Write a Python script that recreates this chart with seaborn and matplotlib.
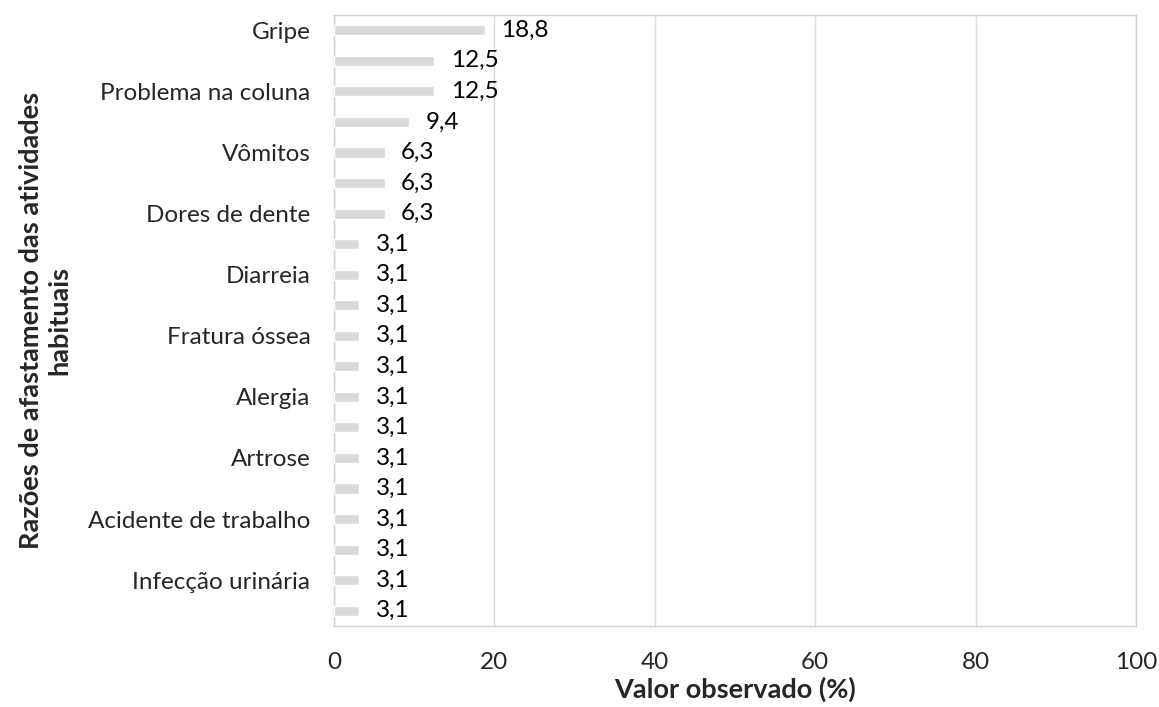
import matplotlib
matplotlib.use("Agg")
import matplotlib.pyplot as plt
import seaborn as sns
import pandas as pd

tick_labels = ["Gripe", "", "Problema na coluna", "", "Vômitos", "", "Dores de dente", "",
               "Diarreia", "", "Fratura óssea", "", "Alergia", "", "Artrose", "",
               "Acidente de trabalho", "", "Infecção urinária", ""]
values = [18.8, 12.5, 12.5, 9.4, 6.3, 6.3, 6.3, 3.1, 3.1, 3.1, 3.1, 3.1, 3.1, 3.1,
          3.1, 3.1, 3.1, 3.1, 3.1, 3.1]
xticks = [0, 20, 40, 60, 80, 100]

sns.set_theme(style="white")
plt.rcParams["font.family"] = ["Lato", "DejaVu Sans"]

FS = 17.5
FSB = 19.5
keys = [f"k{i}" for i in range(len(values))]
df = pd.DataFrame({"key": keys, "valor": values})

fig = plt.figure(figsize=(11.59, 7.07), dpi=100)
ax = fig.add_axes([334 / 1159, 1 - 626 / 707, (1136 - 334) / 1159, (626 - 15) / 707])
sns.barplot(data=df, y="key", x="valor", order=keys, color="#D9D9D9", width=0.33,
            saturation=1, ax=ax, zorder=3)
ax.set_xlim(0, 100)
ax.set_ylim(len(values) - 0.5, -0.5)
ax.set_xticks(xticks)
ax.set_xticklabels([str(t) for t in xticks], fontsize=FS)
ax.set_yticks(range(len(values)))
ax.set_yticklabels(tick_labels, fontsize=FS)
ax.tick_params(axis="y", length=0, pad=17)
ax.tick_params(axis="x", length=0, pad=19)
ax.grid(axis="x", color="#D9D9D9", linewidth=1, zorder=0)
ax.grid(axis="y", visible=False)
for s in ax.spines.values():
    s.set_color("#D0D0D0")
    s.set_linewidth(1)

for i, v in enumerate(values):
    ax.annotate(f"{v:.1f}".replace(".", ","), xy=(v, i), xytext=(12, 0),
                textcoords="offset points", va="center", ha="left", fontsize=FS,
                color="black")

ax.set_xlabel("Valor observado (%)", fontsize=FSB, fontweight="bold", labelpad=2)
ax.set_ylabel("Razões de afastamento das atividades\nhabituais", fontsize=FSB,
              fontweight="bold", linespacing=1.25)
ax.yaxis.set_label_coords(-0.327, 0.5)
fig.savefig("out.png", dpi=100)
